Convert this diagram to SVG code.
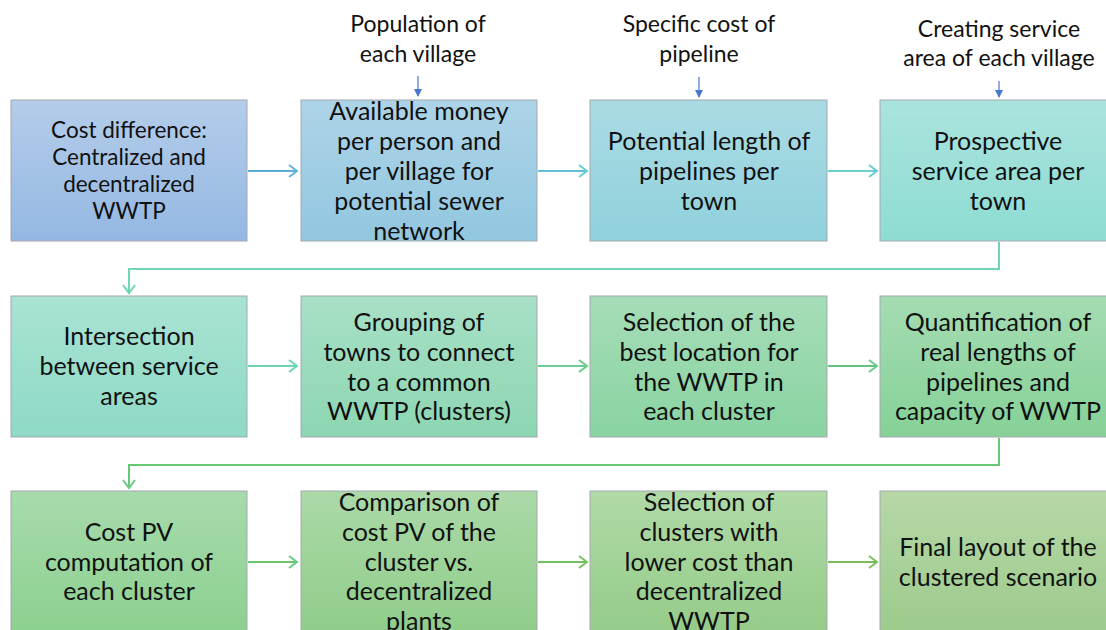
<svg xmlns="http://www.w3.org/2000/svg" width="1106" height="630" viewBox="0 0 1106 630">
<defs>
<style>
.box{stroke:#a3a8ad;stroke-width:1}
.t{font-family:Lato,"Open Sans","Liberation Sans",sans-serif;font-size:25px;fill:#111;text-anchor:middle}
.t1{font-size:22.5px}
.lbl{font-family:Lato,"Open Sans","Liberation Sans",sans-serif;font-size:23px;fill:#111;text-anchor:middle}
.c{fill:none;stroke-width:2}
.in{fill:none;stroke:#4a78c8;stroke-width:1.2}
</style>
<linearGradient id="g1" x1="0" y1="0" x2="0" y2="1"><stop offset="0" stop-color="#b4cdea"/><stop offset="1" stop-color="#94b7e2"/></linearGradient>
<linearGradient id="g2" x1="0" y1="0" x2="0" y2="1"><stop offset="0" stop-color="#add4e8"/><stop offset="1" stop-color="#92c7df"/></linearGradient>
<linearGradient id="g3" x1="0" y1="0" x2="0" y2="1"><stop offset="0" stop-color="#abdbe4"/><stop offset="1" stop-color="#8fd1dc"/></linearGradient>
<linearGradient id="g4" x1="0" y1="0" x2="0" y2="1"><stop offset="0" stop-color="#abe4df"/><stop offset="1" stop-color="#8ddcd2"/></linearGradient>
<linearGradient id="g5" x1="0" y1="0" x2="0" y2="1"><stop offset="0" stop-color="#a9e3d3"/><stop offset="1" stop-color="#8ed9c6"/></linearGradient>
<linearGradient id="g6" x1="0" y1="0" x2="0" y2="1"><stop offset="0" stop-color="#a8e0c6"/><stop offset="1" stop-color="#8dd6b2"/></linearGradient>
<linearGradient id="g7" x1="0" y1="0" x2="0" y2="1"><stop offset="0" stop-color="#a6ddb8"/><stop offset="1" stop-color="#89d3a1"/></linearGradient>
<linearGradient id="g8" x1="0" y1="0" x2="0" y2="1"><stop offset="0" stop-color="#a4dcb2"/><stop offset="1" stop-color="#86d197"/></linearGradient>
<linearGradient id="g9" x1="0" y1="0" x2="0" y2="1"><stop offset="0" stop-color="#a7dbac"/><stop offset="1" stop-color="#8bd08f"/></linearGradient>
<linearGradient id="g10" x1="0" y1="0" x2="0" y2="1"><stop offset="0" stop-color="#abd9a8"/><stop offset="1" stop-color="#8fcd89"/></linearGradient>
<linearGradient id="g11" x1="0" y1="0" x2="0" y2="1"><stop offset="0" stop-color="#b0daa7"/><stop offset="1" stop-color="#94cb88"/></linearGradient>
<linearGradient id="g12" x1="0" y1="0" x2="0" y2="1"><stop offset="0" stop-color="#b6d8a7"/><stop offset="1" stop-color="#9cca8c"/></linearGradient>
<marker id="mB" markerUnits="userSpaceOnUse" markerWidth="14" markerHeight="14" refX="10" refY="7" orient="auto"><path d="M2,1 L10,7 L2,13" fill="none" stroke="#5fb4d8" stroke-width="2"/></marker>
<marker id="mC" markerUnits="userSpaceOnUse" markerWidth="14" markerHeight="14" refX="10" refY="7" orient="auto"><path d="M2,1 L10,7 L2,13" fill="none" stroke="#68cdd2" stroke-width="2"/></marker>
<marker id="mT" markerUnits="userSpaceOnUse" markerWidth="14" markerHeight="14" refX="10" refY="7" orient="auto"><path d="M2,1 L10,7 L2,13" fill="none" stroke="#6dd4b6" stroke-width="2"/></marker>
<marker id="mG" markerUnits="userSpaceOnUse" markerWidth="14" markerHeight="14" refX="10" refY="7" orient="auto"><path d="M2,1 L10,7 L2,13" fill="none" stroke="#6acb86" stroke-width="2"/></marker>
<marker id="mL" markerUnits="userSpaceOnUse" markerWidth="14" markerHeight="14" refX="10" refY="7" orient="auto"><path d="M2,1 L10,7 L2,13" fill="none" stroke="#78c060" stroke-width="2"/></marker>
<marker id="mIn" markerUnits="userSpaceOnUse" markerWidth="10" markerHeight="10" refX="7" refY="4" orient="auto"><path d="M0,0 L8,4 L0,8 Z" fill="#4a78c8"/></marker>
</defs>
<rect width="1106" height="630" fill="#ffffff"/>

<g id="labels">
<text class="lbl" x="418" y="32">Population of</text>
<text class="lbl" x="418" y="62">each village</text>
<text class="lbl" x="699" y="32">Specific cost of</text>
<text class="lbl" x="699" y="62">pipeline</text>
<text class="lbl" x="999" y="37">Creating service</text>
<text class="lbl" x="999" y="66">area of each village</text>
</g>

<g id="connectors">
<line class="in" x1="418" y1="76" x2="418" y2="96" marker-end="url(#mIn)"/>
<line class="in" x1="699" y1="77" x2="699" y2="97" marker-end="url(#mIn)"/>
<line class="in" x1="999" y1="81" x2="999" y2="97" marker-end="url(#mIn)"/>
<line class="c" stroke="#5aaed6" x1="248" y1="171" x2="297" y2="171" marker-end="url(#mB)"/>
<line class="c" stroke="#62bfd6" x1="538" y1="171" x2="587" y2="171" marker-end="url(#mC)"/>
<line class="c" stroke="#6acfd0" x1="828" y1="171" x2="877" y2="171" marker-end="url(#mC)"/>
<polyline class="c" stroke="#6dd5b8" points="999,242 999,269 129,269 129,293" marker-end="url(#mT)"/>
<line class="c" stroke="#6fd3b2" x1="248" y1="366" x2="297" y2="366" marker-end="url(#mT)"/>
<line class="c" stroke="#6dcc98" x1="538" y1="366" x2="587" y2="366" marker-end="url(#mG)"/>
<line class="c" stroke="#64c47e" x1="828" y1="366" x2="877" y2="366" marker-end="url(#mG)"/>
<polyline class="c" stroke="#66c872" points="999,438 999,465 129,465 129,488" marker-end="url(#mG)"/>
<line class="c" stroke="#6cc46b" x1="248" y1="562" x2="297" y2="562" marker-end="url(#mG)"/>
<line class="c" stroke="#74c060" x1="538" y1="562" x2="587" y2="562" marker-end="url(#mL)"/>
<line class="c" stroke="#7cbc58" x1="828" y1="562" x2="877" y2="562" marker-end="url(#mL)"/>
</g>

<g id="n1"><rect class="box" x="11" y="100" width="236" height="141" fill="url(#g1)"/>
<text class="t t1" x="129" y="138">Cost difference:</text>
<text class="t t1" x="129" y="165">Centralized and</text>
<text class="t t1" x="129" y="192">decentralized</text>
<text class="t t1" x="129" y="219">WWTP</text></g>

<g id="n2"><rect class="box" x="301" y="100" width="236" height="141" fill="url(#g2)"/>
<text class="t" x="419" y="120">Available money</text>
<text class="t" x="419" y="150">per person and</text>
<text class="t" x="419" y="180">per village for</text>
<text class="t" x="419" y="210">potential sewer</text>
<text class="t" x="419" y="240">network</text></g>

<g id="n3"><rect class="box" x="590" y="100" width="237" height="141" fill="url(#g3)"/>
<text class="t" x="709" y="150">Potential length of</text>
<text class="t" x="709" y="180">pipelines per</text>
<text class="t" x="709" y="210">town</text></g>

<g id="n4"><rect class="box" x="880" y="100" width="237" height="141" fill="url(#g4)"/>
<text class="t" x="998" y="150">Prospective</text>
<text class="t" x="998" y="180">service area per</text>
<text class="t" x="998" y="210">town</text></g>

<g id="n5"><rect class="box" x="11" y="296" width="236" height="141" fill="url(#g5)"/>
<text class="t" x="129" y="345">Intersection</text>
<text class="t" x="129" y="375">between service</text>
<text class="t" x="129" y="405">areas</text></g>

<g id="n6"><rect class="box" x="301" y="296" width="236" height="141" fill="url(#g6)"/>
<text class="t" x="419" y="331">Grouping of</text>
<text class="t" x="419" y="361">towns to connect</text>
<text class="t" x="419" y="391">to a common</text>
<text class="t" x="419" y="420">WWTP (clusters)</text></g>

<g id="n7"><rect class="box" x="590" y="296" width="237" height="141" fill="url(#g7)"/>
<text class="t" x="709" y="331">Selection of the</text>
<text class="t" x="709" y="361">best location for</text>
<text class="t" x="709" y="391">the WWTP in</text>
<text class="t" x="709" y="420">each cluster</text></g>

<g id="n8"><rect class="box" x="880" y="296" width="237" height="141" fill="url(#g8)"/>
<text class="t" x="998" y="331">Quantification of</text>
<text class="t" x="998" y="361">real lengths of</text>
<text class="t" x="998" y="391">pipelines and</text>
<text class="t" x="998" y="420">capacity of WWTP</text></g>

<g id="n9"><rect class="box" x="11" y="491" width="236" height="145" fill="url(#g9)"/>
<text class="t" x="129" y="541">Cost PV</text>
<text class="t" x="129" y="571">computation of</text>
<text class="t" x="129" y="600">each cluster</text></g>

<g id="n10"><rect class="box" x="301" y="491" width="236" height="145" fill="url(#g10)"/>
<text class="t" x="419" y="511">Comparison of</text>
<text class="t" x="419" y="541">cost PV of the</text>
<text class="t" x="419" y="571">cluster vs.</text>
<text class="t" x="419" y="600">decentralized</text>
<text class="t" x="419" y="630">plants</text></g>

<g id="n11"><rect class="box" x="590" y="491" width="237" height="145" fill="url(#g11)"/>
<text class="t" x="709" y="511">Selection of</text>
<text class="t" x="709" y="541">clusters with</text>
<text class="t" x="709" y="571">lower cost than</text>
<text class="t" x="709" y="600">decentralized</text>
<text class="t" x="709" y="630">WWTP</text></g>

<g id="n12"><rect class="box" x="880" y="491" width="237" height="145" fill="url(#g12)"/>
<text class="t" x="998" y="556">Final layout of the</text>
<text class="t" x="998" y="586">clustered scenario</text></g>
</svg>
